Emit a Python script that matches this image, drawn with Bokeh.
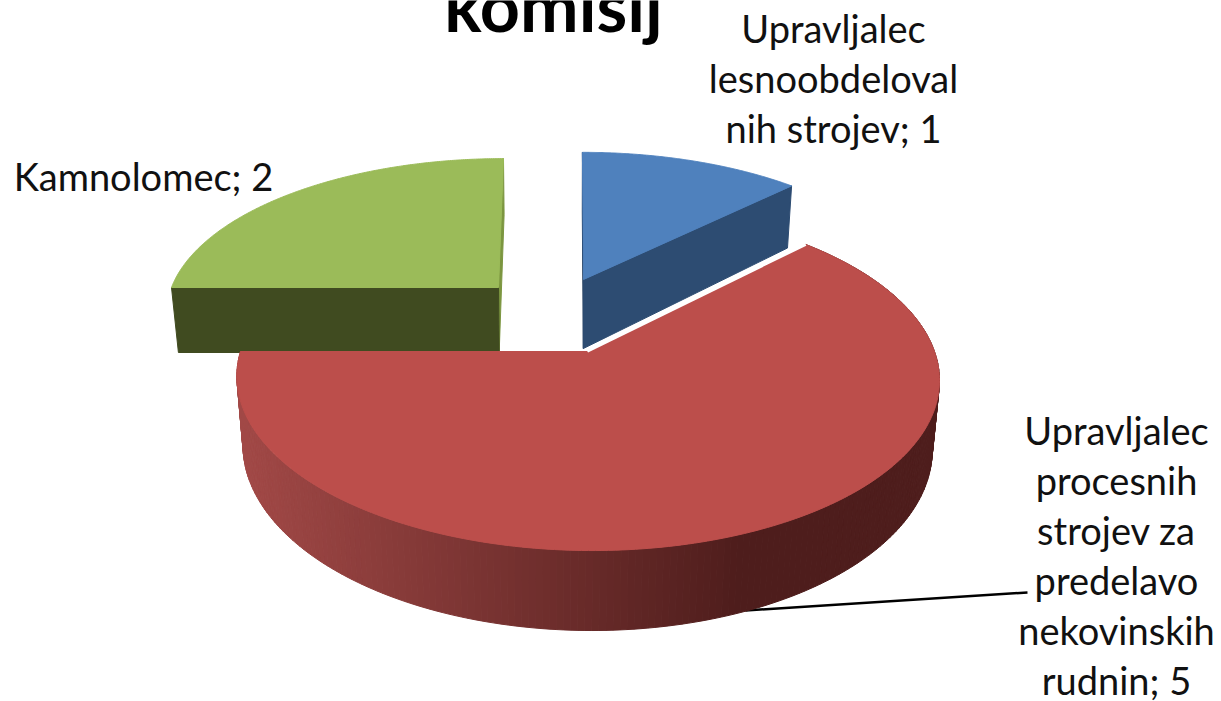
import numpy as np
from bokeh.plotting import figure
from bokeh.embed import file_html
from bokeh.resources import INLINE
from bokeh.core.properties import value

title_text = "komisij"
categories = ["Upravljalec lesnoobdelovalnih strojev", "Upravljalec procesnih strojev za predelavo nekovinskih rudnin", "Kamnolomec"]
values = [1, 5, 2]
label_lines = [
    ["Upravljalec", "lesnoobdeloval", "nih strojev; 1"],
    ["Upravljalec", "procesnih", "strojev za", "predelavo", "nekovinskih", "rudnin; 5"],
    ["Kamnolomec; 2"],
]
top_colors = ["#4F81BD", "#BC4E4B", "#9BBB59"]
wall_colors = ["#2D4C72", "#4E1D1C", "#404B20"]
thin_wall_colors = ["#1F3A5C", "#4E1D1C", "#7C9640"]

# layout in page pixels of the reference
W, H = 1221, 701
K, LOW = 0.156, 0.981
# slice: apex x, apex y, a, b, h, vanishing x
geom = [(583, 279, 328, 147, 69, 575), (587, 351, 347, 168, 67.5, 560), (498, 287, 327, 149, 65, 535)]
label_pos = [(833, 27, 50), (1116, 429, 50), (143, 175, 50)]
LEADER_X, LEADER_Y = [745, 1027], [610, 592]


def proj(g, th, low=False):
    ax, ay, a, b, h, vx = g
    X, Y = np.sin(th), np.cos(th)
    den = 1 + K * Y
    s = LOW if low else 1.0
    x = vx + s * (ax - vx + a * X) / den
    y = ay + (-b * Y + (h if low else 0)) / den
    return x, y


def apex(g, low=False):
    ax, ay, a, b, h, vx = g
    return (vx + (LOW if low else 1.0) * (ax - vx), ay + (h if low else 0))


def lerp_color(x):
    c0, c1 = np.array([0xA2, 0x49, 0x47]), np.array([0x4E, 0x1D, 0x1C])
    t = np.clip((x - 240) / (745 - 240), 0, 1)
    r, g_, b = (c0 + (c1 - c0) * t).astype(int)
    return f"#{r:02x}{g_:02x}{b:02x}"


p = figure(width=W, height=H, x_range=(0, W), y_range=(H, 0), toolbar_location=None,
           output_backend="svg", min_border=0, outline_line_color=None)
p.axis.visible = False
p.grid.visible = False

cum = np.cumsum([0] + values) / sum(values) * 2 * np.pi
spans = [(cum[i], cum[i + 1]) for i in range(len(values))]


def cut_face(i, th):
    g = geom[i]
    a0, a1 = apex(g), apex(g, True)
    e0, e1 = proj(g, th), proj(g, th, True)
    return [a0[0], e0[0], e1[0], a1[0]], [a0[1], e0[1], e1[1], a1[1]]


def top_face(i):
    g = geom[i]
    t = np.linspace(*spans[i], 240)
    x, y = proj(g, t)
    a = apex(g)
    return [a[0], *x], [a[1], *y]


# green slice
xs, ys = cut_face(2, spans[2][1])
p.patch(xs, ys, fill_color=thin_wall_colors[2], line_color=thin_wall_colors[2])
xs, ys = cut_face(2, spans[2][0])
p.patch(xs, ys, fill_color=wall_colors[2], line_color=wall_colors[2])
xs, ys = top_face(2)
p.patch(xs, ys, fill_color=top_colors[2], line_color=top_colors[2])

# blue slice
xs, ys = cut_face(0, spans[0][0])
p.patch(xs, ys, fill_color=thin_wall_colors[0], line_color=thin_wall_colors[0])
xs, ys = cut_face(0, spans[0][1])
p.patch(xs, ys, fill_color=wall_colors[0], line_color=wall_colors[0])
xs, ys = top_face(0)
p.patch(xs, ys, fill_color=top_colors[0], line_color=top_colors[0])

# leader
p.line(LEADER_X, LEADER_Y, line_color="black", line_width=2.5)

# red slice: shaded rim, top
t = np.linspace(*spans[1], 226)
sx, sy, cs = [], [], []
for t0, t1 in zip(t[:-1], t[1:]):
    a0, b0 = proj(geom[1], t0), proj(geom[1], t1)
    a1, b1 = proj(geom[1], t0, True), proj(geom[1], t1, True)
    sx.append([a0[0], b0[0], b1[0], a1[0]])
    sy.append([a0[1], b0[1], b1[1], a1[1]])
    cs.append(lerp_color((a0[0] + b0[0]) / 2))
p.patches(sx, sy, fill_color=cs, line_color=cs, line_width=1)
xs, ys = top_face(1)
p.patch(xs, ys, fill_color=top_colors[1], line_color=top_colors[1])
a = apex(geom[1])
e = proj(geom[1], spans[1][0])
p.line([a[0], e[0]], [a[1], e[1]], line_color="white", line_width=2.5)

# texts
p.text([553], [4], text=[title_text], text_font=value("Lato"), text_font_style="bold",
       text_font_size="70px", text_align="center", text_baseline="middle", text_color="black")
for lines, (lx, ly, dy) in zip(label_lines, label_pos):
    p.text([lx] * len(lines), [ly + dy * j for j in range(len(lines))], text=lines,
           text_font=value("Lato"), text_font_size="38px", text_align="center",
           text_baseline="middle", text_color="#111111")

open("out.html", "w").write(file_html(p, INLINE))
